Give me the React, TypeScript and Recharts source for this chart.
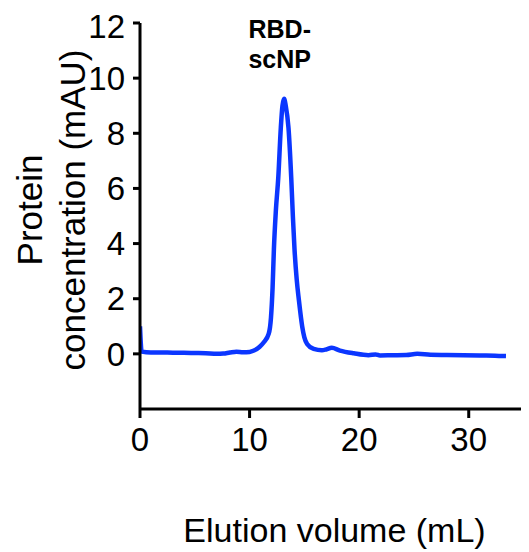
import React from "react";
import { LineChart, Line, XAxis, YAxis, ReferenceDot } from "recharts";

const volumes = [
  0, 0.15, 1, 2, 3, 4, 5, 6, 7, 7.6, 8.2, 8.8, 9.4, 10, 10.4, 10.9, 11.3, 11.75, 11.95, 12.1,
  12.22, 12.4, 12.62, 12.85, 13.0, 13.15, 13.3, 13.55, 13.8, 13.95, 14.1, 14.3, 14.5, 14.8, 15.0,
  15.25, 15.85, 16.6, 17.0, 17.5, 18.25, 19.5, 20.85, 21.5, 21.9, 23, 24.3, 25.3, 26.5, 28, 29.5,
  31, 32.4, 33.4,
];
const concentrations = [
  1.0, 0.08, 0.05, 0.05, 0.04, 0.04, 0.03, 0.02, 0.0, 0.01, 0.05, 0.08, 0.06, 0.07, 0.12, 0.25,
  0.42, 0.73, 1.3, 2.4, 3.8, 5.2, 6.4, 8.2, 9.0, 9.25, 9.0, 8.2, 6.4, 5.0, 3.8, 2.7, 1.95, 1.0, 0.6,
  0.36, 0.18, 0.13, 0.16, 0.22, 0.12, 0.02, -0.05, -0.02, -0.06, -0.05, -0.04, 0.0, -0.03, -0.04,
  -0.05, -0.06, -0.07, -0.08,
];
const xTicks = [0, 10, 20, 30];
const yTicks = [0, 2, 4, 6, 8, 10, 12];
const peakLabel = ["RBD-", "scNP"];
const peakLabelPos = { x: 9.9, y: 11.47 };
const xLabel = "Elution volume (mL)";
const yLabelLines = ["Protein", "concentration (mAU)"];

const data = volumes.map((v, i) => ({ v, c: concentrations[i] }));

const FONT = "'Liberation Sans', Arial, sans-serif";

export default function App() {
  return (
    <LineChart
      width={521}
      height={544}
      data={data}
      margin={{ top: 15, right: 0, bottom: 0, left: 0 }}
      style={{ fontFamily: FONT }}
    >
      <XAxis
        dataKey="v"
        type="number"
        domain={[0, 35.5]}
        ticks={xTicks}
        allowDataOverflow
        height={143}
        tickSize={9}
        tickMargin={10}
        axisLine={{ stroke: "#000", strokeWidth: 3 }}
        tickLine={{ stroke: "#000", strokeWidth: 3 }}
        tick={{ fill: "#000", fontSize: 33, fontFamily: FONT }}
        label={{
          content: (props: any) => {
            const vb = props.viewBox || {};
            return (
              <text
                x={vb.x + vb.width / 2}
                y={vb.y + 133}
                textAnchor="middle"
                fontSize={34}
                fontFamily={FONT}
                fill="#000"
              >
                {xLabel}
              </text>
            );
          },
        }}
      />
      <YAxis
        type="number"
        domain={[-2, 12]}
        ticks={yTicks}
        allowDataOverflow
        width={132}
        tickSize={7}
        tickMargin={8}
        axisLine={{ stroke: "#000", strokeWidth: 3 }}
        tickLine={{ stroke: "#000", strokeWidth: 3 }}
        tick={{ fill: "#000", fontSize: 33, fontFamily: FONT }}
        label={{
          content: () => {
            const cy = 202;
            const xs = [34, 77];
            return (
              <g>
                {yLabelLines.map((t, i) => (
                  <text
                    key={i}
                    x={xs[i]}
                    y={cy}
                    transform={`rotate(-90, ${xs[i]}, ${cy})`}
                    textAnchor="middle"
                    fontSize={35}
                    fontFamily={FONT}
                    fill="#000"
                  >
                    {t}
                  </text>
                ))}
              </g>
            );
          },
        }}
      />
      <Line
        dataKey="c"
        type="monotone"
        stroke="#0b36ff"
        strokeWidth={4.5}
        dot={false}
        isAnimationActive={false}
      />
      <ReferenceDot
        x={peakLabelPos.x}
        y={peakLabelPos.y}
        r={0}
        fill="none"
        stroke="none"
        label={{
          content: (props: any) => {
            const vb = props.viewBox || {};
            return (
              <g>
                {peakLabel.map((t, i) => (
                  <text
                    key={i}
                    x={vb.x}
                    y={vb.y + i * 30}
                    textAnchor="start"
                    fontSize={25}
                    fontWeight="bold"
                    fontFamily={FONT}
                    fill="#000"
                  >
                    {t}
                  </text>
                ))}
              </g>
            );
          },
        }}
      />
    </LineChart>
  );
}
